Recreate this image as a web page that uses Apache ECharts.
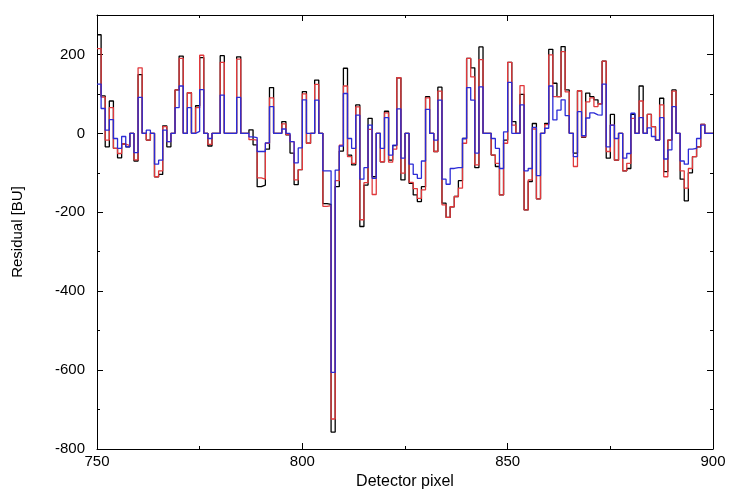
<!DOCTYPE html>
<html>
<head>
<meta charset="utf-8">
<script src="https://cdn.jsdelivr.net/npm/echarts@6/dist/echarts.min.js"></script>
<style>
  html, body { margin: 0; padding: 0; background: #fff; }
  #chart { width: 731px; height: 490px; }
</style>
</head>
<body>
<div id="chart"></div>
<script>
// detector pixels 750..899, one value per pixel
var startPixel = 750;

var blackVals = [
  250, 95, -34, 82, -38, -62, -27, -34, 0, -70,
  149, 0, -17, 0, -110, -104, 19, -34, 0, 110,
  196, 0, 103, 0, 70, 192, 0, -32, 0, 0,
  197, 0, 0, 0, 194, 0, 0, 9, -29, -135,
  -131, -40, 116, 0, 0, 30, -4, -50, -130, -92,
  106, -25, 0, 135, 0, -178, -180, -757, -135, -45,
  165, -55, -80, 72, -236, -131, 38, -110, 0, -72,
  56, -68, -31, 141, -118, 0, -127, -156, -173, -135,
  93, 0, -46, 117, -177, -213, -186, -160, -120, -13,
  190, 166, -87, 219, 0, 0, -55, -84, -156, -17,
  180, 30, 0, 99, -194, -122, 25, -166, 0, 25,
  213, 127, 93, 220, 110, 0, -50, 108, -10, 102,
  93, 85, 75, 183, -63, 48, -68, 0, -95, -89,
  48, 0, 120, 0, 48, 17, -17, 89, -97, -17,
  110, 0, -116, -171, -100, -59, -34, 23, 0, 0
];

var redVals = [
  215, 92, -17, 65, -38, -51, -27, -31, 0, -67,
  166, 0, -17, 0, -110, -95, 17, -21, 0, 110,
  190, 0, 103, 0, 65, 198, 0, -28, 0, 0,
  180, 0, 0, 0, 188, 0, 0, -16, -17, -113,
  -116, -25, 90, 0, 0, 24, -3, -21, -118, -92,
  100, -25, 0, 124, 0, -185, -183, -724, -120, -30,
  120, -59, -76, 67, -219, -125, 10, -155, 0, -72,
  52, -73, -40, 141, -101, 0, -124, -140, -165, -143,
  90, 0, -46, 107, -181, -213, -186, -160, -139, -25,
  190, 143, -80, 187, 0, 0, -55, -76, -156, -25,
  180, 21, 0, 121, -194, -118, 11, -166, 0, 22,
  199, 93, 93, 207, 105, 0, -84, 108, -9, 80,
  90, 68, 75, 183, -46, 21, -68, 0, -95, -76,
  38, 0, 82, 0, 48, 17, -17, 72, -110, -17,
  107, 0, -95, -139, -89, -59, -34, 23, 0, 0
];

var blueVals = [
  125, 63, 8, 35, -13, -38, -8, -34, 0, -49,
  91, 0, 8, 0, -78, -68, 8, -21, 0, 65,
  120, 0, 65, 0, 5, 111, 0, -13, 0, 0,
  97, 0, 0, 0, 91, 0, 0, -9, -11, -46,
  -46, -24, 68, 0, 0, 11, 0, -21, -75, -37,
  85, 0, 0, 84, 0, -95, -95, -606, -93, -32,
  101, -13, -38, 46, -116, -87, 21, -114, 0, -38,
  40, -55, -30, 62, -63, 0, -78, -104, -114, -70,
  61, 0, -17, 84, -116, -129, -89, -87, -87, -13,
  116, 84, -50, 118, 0, 0, -13, -38, -89, 4,
  129, 0, 0, 72, -95, -89, 15, -107, 0, 13,
  120, 34, 59, 85, 45, 0, -59, 55, -6, 39,
  52, 47, 46, 125, -34, 21, -13, 0, -63, -51,
  51, 0, 40, 0, 14, -8, -17, 40, -65, -42,
  68, 0, -70, -78, -40, -38, -13, 21, 0, 0
];

var xTickLabels = [750, 800, 850, 900];
var yTickLabels = [-800, -600, -400, -200, 0, 200];

// turn a value list into [pixel, value] pairs, closing the last step at 900
function toSteps(vals) {
  var out = [], i;
  for (i = 0; i < vals.length; i++) {
    out.push([startPixel + i, vals[i]]);
  }
  out.push([startPixel + vals.length, vals[vals.length - 1]]);
  return out;
}

function stepSeries(name, vals, color) {
  return {
    name: name,
    type: 'line',
    step: 'end',
    data: toSteps(vals),
    showSymbol: false,
    silent: true,
    animation: false,
    lineStyle: { color: color, width: 1.3 }
  };
}

var font = 'Liberation Sans, Arial, sans-serif';
var frameLine = { show: true, onZero: false, lineStyle: { color: '#000', width: 1 } };
var majorTick = { show: true, inside: true, length: 6, lineStyle: { color: '#000' } };
var minorTick = { show: true, splitNumber: 2, length: 3, lineStyle: { color: '#000' } };

var chart = echarts.init(document.getElementById('chart'));
chart.setOption({
  backgroundColor: '#fff',
  animation: false,
  grid: { left: 97, right: 18, top: 15, bottom: 41, outerBoundsMode: 'none', containLabel: false },
  xAxis: [
    {
      type: 'value', min: 750, max: 900, interval: 50, position: 'bottom',
      name: 'Detector pixel', nameLocation: 'middle', nameGap: 22,
      nameTextStyle: { color: '#000', fontSize: 16, fontFamily: font },
      axisLine: frameLine, axisTick: majorTick, minorTick: minorTick,
      axisLabel: {
        color: '#000', fontSize: 15, fontFamily: font, margin: 5,
        formatter: function (v) { return xTickLabels.indexOf(v) >= 0 ? String(v) : ''; }
      },
      splitLine: { show: false }, minorSplitLine: { show: false }
    },
    {
      type: 'value', min: 750, max: 900, interval: 50, position: 'top',
      axisLine: frameLine, axisTick: majorTick, minorTick: minorTick,
      axisLabel: { show: false },
      splitLine: { show: false }, minorSplitLine: { show: false }
    }
  ],
  yAxis: [
    {
      type: 'value', min: -800, max: 300, interval: 200, position: 'left',
      name: 'Residual [BU]', nameLocation: 'middle', nameGap: 72,
      nameTextStyle: { color: '#000', fontSize: 15, fontFamily: font },
      axisLine: frameLine, axisTick: majorTick, minorTick: minorTick,
      axisLabel: {
        color: '#000', fontSize: 15, fontFamily: font, margin: 12,
        formatter: function (v) { return yTickLabels.indexOf(v) >= 0 ? String(v) : ''; }
      },
      splitLine: { show: false }, minorSplitLine: { show: false }
    },
    {
      type: 'value', min: -800, max: 300, interval: 200, position: 'right',
      axisLine: frameLine, axisTick: majorTick, minorTick: minorTick,
      axisLabel: { show: false },
      splitLine: { show: false }, minorSplitLine: { show: false }
    }
  ],
  series: [
    stepSeries('black', blackVals, '#000000'),
    stepSeries('red', redVals, '#e0393c'),
    stepSeries('blue', blueVals, '#2b2bd6')
  ]
});
</script>
</body>
</html>
